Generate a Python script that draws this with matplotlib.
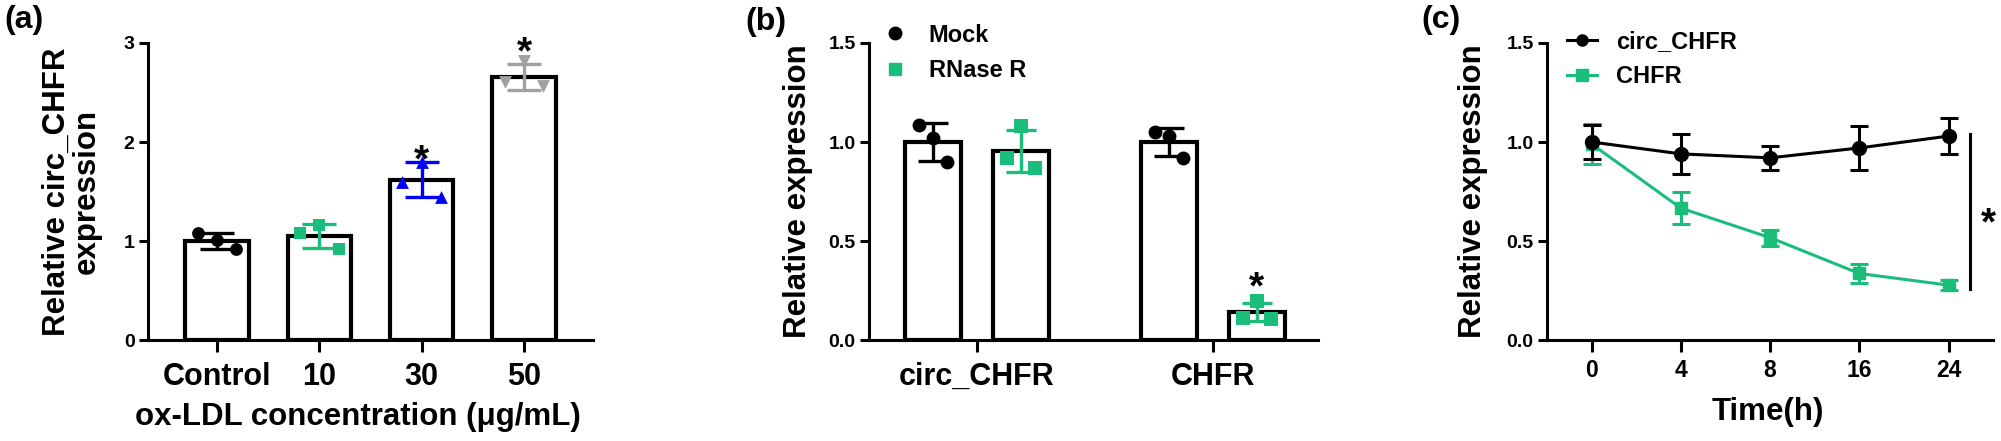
import matplotlib
matplotlib.use("Agg")
import matplotlib.pyplot as plt
from matplotlib.lines import Line2D
import numpy as np

plt.rcParams['font.family'] = ['Liberation Sans', 'DejaVu Sans']
plt.rcParams['font.weight'] = 'bold'
plt.rcParams['axes.labelweight'] = 'bold'

GREEN = '#1bbd7a'
BLUE = '#0000ff'
GRAY = '#a0a0a0'

# (a) ox-LDL dose
a_groups = ['Control', '10', '30', '50']
a_means = [1.00, 1.05, 1.62, 2.66]
a_sd = [0.08, 0.12, 0.18, 0.13]
a_points = [[1.08, 1.01, 0.92],
            [1.08, 1.16, 0.92],
            [1.60, 1.80, 1.44],
            [2.61, 2.82, 2.57]]
a_star_y = [None, None, 1.93, 3.02]

# (b) RNase R
b_genes = ['circ_CHFR', 'CHFR']
b_series = ['Mock', 'RNase R']
b_means = {'Mock': [1.00, 1.00], 'RNase R': [0.955, 0.14]}
b_sd = {'Mock': [0.095, 0.07], 'RNase R': [0.108, 0.045]}
b_points = {'Mock': [[1.086, 1.02, 0.897], [1.05, 1.03, 0.92]],
            'RNase R': [[0.92, 1.08, 0.87], [0.112, 0.197, 0.104]]}
b_star_y = 0.325

# (c) time course
c_time = ['0', '4', '8', '16', '24']
c_circ = [1.00, 0.94, 0.92, 0.97, 1.03]
c_circ_sd = [0.085, 0.10, 0.06, 0.11, 0.09]
c_chfr = [0.99, 0.666, 0.517, 0.336, 0.277]
c_chfr_sd = [0.10, 0.08, 0.04, 0.05, 0.025]
c_sig = (0.26, 1.04)
c_star_y = 0.645


def style_axis(ax, xlen, ylen):
    for s in ['top', 'right']:
        ax.spines[s].set_visible(False)
    for s in ['left', 'bottom']:
        ax.spines[s].set_linewidth(2.2)
    ax.tick_params(axis='x', length=xlen, width=2.2, direction='out')
    ax.tick_params(axis='y', length=ylen, width=2.2, direction='out', pad=3, labelsize=14)


def star(ax, x, y, size=28):
    ax.annotate('*', (x, y), xytext=(0, -0.575 * size), textcoords='offset points',
                ha='center', va='baseline', fontsize=size, fontweight='bold',
                annotation_clip=False)


fig = plt.figure(figsize=(20.01, 4.41), dpi=100)
AX_B, AX_H = 0.229, 0.6735

# ---------------- (a)
ax = fig.add_axes([0.074, AX_B, 0.2224, AX_H])
a_colors = ['black', GREEN, BLUE, GRAY]
a_markers = ['o', 's', '^', 'v']
a_jit = [-0.19, 0.0, 0.19]
xa = np.arange(len(a_groups))
ax.bar(xa, a_means, width=0.62, color='white', edgecolor='black', linewidth=3, zorder=2)
for i in range(len(a_groups)):
    ax.errorbar(xa[i], a_means[i], yerr=a_sd[i], color=a_colors[i], capsize=12,
                elinewidth=2.4, capthick=2.4, zorder=3, fmt='none')
    ax.scatter(xa[i] + np.array(a_jit), a_points[i], marker=a_markers[i],
               color=a_colors[i], s=85, zorder=4, linewidths=0)
    if a_star_y[i] is not None:
        star(ax, xa[i], a_star_y[i])
ax.set_xlim(-0.674, 3.675)
ax.set_ylim(0, 3)
ax.set_yticks([0, 1, 2, 3])
ax.set_xticks(xa)
ax.set_xticklabels(a_groups, fontsize=22)
style_axis(ax, 8.6, 6.7)
ax.tick_params(axis='x', pad=7)
ax.set_ylabel('Relative circ_CHFR\nexpression', fontsize=22.5, linespacing=1.0, va='center')
ax.yaxis.set_label_coords(-0.171, 0.5)
ax.set_xlabel('ox-LDL concentration (\u03bcg/mL)', fontsize=22.5, va='center')
ax.xaxis.set_label_coords(0.472, -0.258)
fig.text(0.002, 0.955, '(a)', fontsize=23, fontweight='bold', va='center', ha='left')

# ---------------- (b)
ax = fig.add_axes([0.4343, AX_B, 0.2244, AX_H])
b_colors = {'Mock': 'black', 'RNase R': GREEN}
b_markers = {'Mock': 'o', 'RNase R': 's'}
b_off = {'Mock': -0.186, 'RNase R': 0.186}
b_jit = [-0.058, 0.0, 0.058]
xb = np.arange(len(b_genes))
for s in b_series:
    xs = xb + b_off[s]
    ax.bar(xs, b_means[s], width=0.237, color='white', edgecolor='black', linewidth=3, zorder=2)
    ax.errorbar(xs, b_means[s], yerr=b_sd[s], color=b_colors[s], capsize=11,
                elinewidth=2.4, capthick=2.4, zorder=3, fmt='none')
    for j in range(len(b_genes)):
        ax.scatter(xs[j] + np.array(b_jit), b_points[s][j], marker=b_markers[s],
                   color=b_colors[s], s=100, zorder=4, linewidths=0)
star(ax, xb[1] + b_off['RNase R'], b_star_y)
ax.set_xlim(-0.457, 1.445)
ax.set_ylim(0, 1.5)
ax.set_yticks([0, 0.5, 1.0, 1.5])
ax.set_yticklabels(['0.0', '0.5', '1.0', '1.5'])
ax.set_xticks(xb)
ax.set_xticklabels(b_genes, fontsize=22)
style_axis(ax, 8.6, 6.7)
ax.tick_params(axis='x', pad=7)
ax.set_ylabel('Relative expression', fontsize=22.5, va='center')
ax.yaxis.set_label_coords(-0.158, 0.5)
handles = [Line2D([], [], ls='none', marker=b_markers[s], color=b_colors[s], markersize=9)
           for s in b_series]
ax.legend(handles, b_series, loc='center left', bbox_to_anchor=(0.4413, 0.88),
          bbox_transform=fig.transFigure, frameon=False, borderpad=0, fontsize=17,
          handlelength=1.0, handletextpad=0.93, labelspacing=0.53, borderaxespad=0)
fig.text(0.3725, 0.95, '(b)', fontsize=23, fontweight='bold', va='center', ha='left')

# ---------------- (c)
ax = fig.add_axes([0.7731, AX_B, 0.223, AX_H])
xc = np.arange(len(c_time))
ax.errorbar(xc, c_circ, yerr=c_circ_sd, color='black', marker='o', markersize=10,
            lw=2.2, capsize=6.5, elinewidth=2.2, capthick=2.2, zorder=4)
ax.errorbar(xc, c_chfr, yerr=c_chfr_sd, color=GREEN, marker='s', markersize=9,
            lw=2.2, capsize=6.5, elinewidth=2.2, capthick=2.2, zorder=3)
ax.plot([4.236, 4.236], c_sig, color='black', lw=2.2, clip_on=False)
star(ax, 4.45, c_star_y)
ax.set_xlim(-0.5, 4.5)
ax.set_ylim(0, 1.5)
ax.set_yticks([0, 0.5, 1.0, 1.5])
ax.set_yticklabels(['0.0', '0.5', '1.0', '1.5'])
ax.set_xticks(xc)
ax.set_xticklabels(c_time, fontsize=16.5)
style_axis(ax, 8.6, 6.7)
ax.tick_params(axis='x', pad=5)
ax.set_ylabel('Relative expression', fontsize=22.5, va='center')
ax.yaxis.set_label_coords(-0.165, 0.5)
ax.set_xlabel('Time(h)', fontsize=22.5, va='center')
ax.xaxis.set_label_coords(0.495, -0.244)
c_handles = [Line2D([], [], color='black', lw=2.2, marker='o', markersize=8),
             Line2D([], [], color=GREEN, lw=2.2, marker='s', markersize=8)]
ax.legend(c_handles, ['circ_CHFR', 'CHFR'], loc='center left', bbox_to_anchor=(0.7831, 0.866),
          bbox_transform=fig.transFigure, frameon=False, borderpad=0, fontsize=17,
          handlelength=1.27, handletextpad=0.8, labelspacing=0.53, borderaxespad=0)
fig.text(0.7101, 0.955, '(c)', fontsize=23, fontweight='bold', va='center', ha='left')

fig.savefig('out.png', dpi=100, facecolor='white')
